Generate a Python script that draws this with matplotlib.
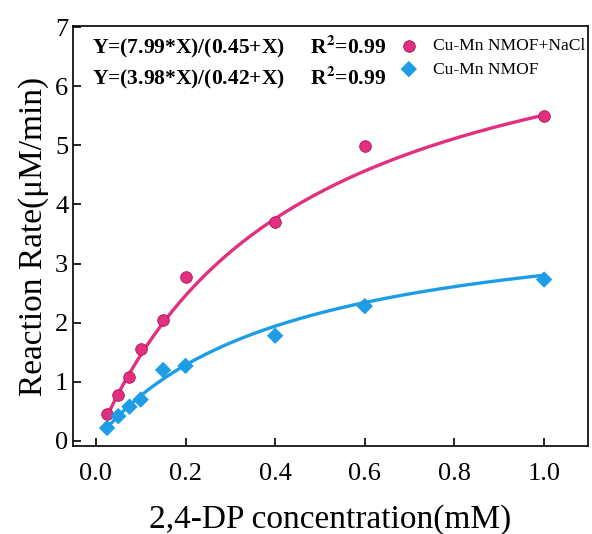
import matplotlib.pyplot as plt
import numpy as np

plt.rcParams['font.family'] = ['Liberation Serif', 'DejaVu Serif']
plt.rcParams['mathtext.fontset'] = 'stix'

conc = [0.025, 0.05, 0.075, 0.1, 0.15, 0.2, 0.4, 0.6, 1.0]
rate_nacl = [0.45, 0.78, 1.08, 1.55, 2.05, 2.78, 3.70, 4.98, 5.50]
rate_mof = [0.22, 0.42, 0.58, 0.70, 1.20, 1.27, 1.78, 2.28, 2.73]
vmax_nacl, km_nacl = 7.99, 0.45
vmax_mof, km_mof = 3.98, 0.42

pink = '#E2307F'
blue = '#1C9DE6'

fig = plt.figure(figsize=(5.92, 5.34), dpi=100)
ax = fig.add_axes([0.1233, 0.1648, 0.870, 0.7865])

xs = np.linspace(conc[0], conc[-1], 200)
ax.plot(xs, vmax_nacl * xs / (km_nacl + xs), color=pink, lw=2.4)
ax.plot(xs, vmax_mof * xs / (km_mof + xs), color=blue, lw=2.4)
ax.scatter(conc, rate_nacl, s=70, color=pink, edgecolors='#B0105A', linewidths=0.6,
           zorder=3, label='Cu-Mn NMOF+NaCl')
ax.scatter(conc, rate_mof, s=70, marker='D', color=blue, edgecolors='none',
           zorder=3, label='Cu-Mn NMOF')

ax.text(-0.009, 6.68, r'Y=(7.99*X)/(0.45+X)     R$^\mathbf{2}$=0.99', fontsize=15.5,
        fontweight='bold', va='center')
ax.text(-0.009, 6.14, r'Y=(3.98*X)/(0.42+X)     R$^\mathbf{2}$=0.99', fontsize=15.5,
        fontweight='bold', va='center')
ax.legend(loc='upper left', bbox_to_anchor=(0.635, 0.971), frameon=False, fontsize=12.6,
          handlelength=1.0, handletextpad=0.9, borderaxespad=0, borderpad=0,
          labelspacing=0.4)

ax.set_xlim(-0.051, 1.098)
ax.set_ylim(-0.085, 7.017)
ax.set_xticks([0.0, 0.2, 0.4, 0.6, 0.8, 1.0])
ax.set_yticks(range(8))
ax.tick_params(direction='in', labelsize=19, length=6, width=1.2)
ax.tick_params(axis='x', pad=12)
for sp in ax.spines.values():
    sp.set_linewidth(1.2)
ax.set_xlabel('2,4-DP concentration(mM)', fontsize=24, labelpad=14)
ax.set_ylabel('Reaction Rate(μM/min)', fontsize=24, labelpad=4)

fig.savefig('out.png', dpi=100)
